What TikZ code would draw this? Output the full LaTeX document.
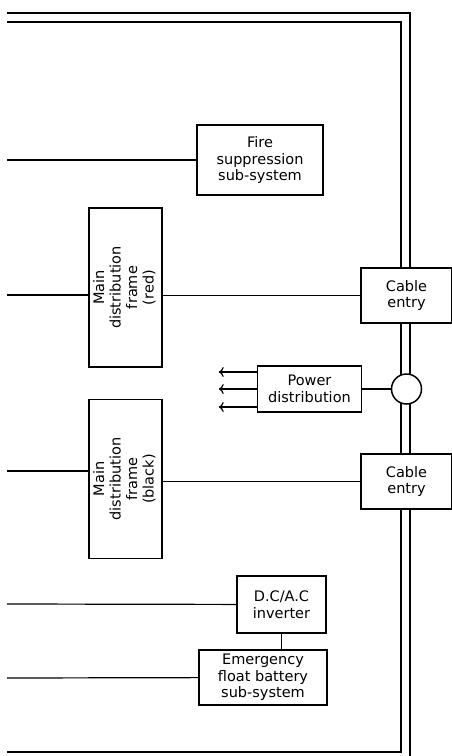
\documentclass[tikz,border=0pt]{standalone}
\usepackage{fontspec}
\usepackage{graphicx}
\usetikzlibrary{arrows.meta}
\newfontfamily\blockfont{DejaVu Sans}

\newcommand{\sideways}[1]{\rotatebox{90}{\begin{tabular}{@{}c@{}}#1\end{tabular}}}

\begin{document}
\begin{tikzpicture}[x=1pt,y=-1pt,>={To[length=5pt,width=10pt]},
        block/.style={draw,line width=1.5pt,fill=white,align=center,inner sep=1pt,
            font=\blockfont\fontsize{14.5}{16.5}\selectfont},
        wall/.style={line width=1.3pt},
        link/.style={line width=1.2pt}]
    \useasboundingbox (0,0) rectangle (452,756);

    % outer and inner wall of the building
    \draw[wall] (7,13) -- (410,13) -- (410,756);
    \draw[wall] (7,22) -- (401,22) -- (401,752) -- (7,752);

    \node[block,minimum width=126pt,minimum height=70pt] (Fire) at (260,160) {Fire\\suppression\\sub-system};
    \node[block,minimum width=73pt,minimum height=159pt] (MDFr) at (125.5,287.5) {\sideways{Main\\distribution\\frame\\(red)}};
    \node[block,minimum width=73pt,minimum height=159pt] (MDFb) [below of=MDFr, node distance=191.5pt] {\sideways{Main\\distribution\\frame\\(black)}};
    \node[block,minimum width=91pt,minimum height=55pt] (CableA) at (406.5,295.5) {Cable\\entry};
    \node[block,minimum width=91pt,minimum height=55pt] (CableB) [below of=CableA, node distance=186pt] {Cable\\entry};
    \node[block,circle,minimum size=30pt,inner sep=0pt] (Duct) [below of=CableA, node distance=93.5pt] {};
    \node[block,minimum width=104pt,minimum height=46pt] (Power) [left of=Duct, node distance=97pt] {Power\\distribution};
    \node[block,minimum width=89pt,minimum height=57pt] (Inverter) at (281.5,604.5) {D.C/A.C\\inverter};
    \node[block,minimum width=128pt,minimum height=55pt] (Battery) at (263,677.5) {Emergency\\float battery\\sub-system};

    % feeds coming in from the left
    \coordinate (fireIn) at (7,160);
    \coordinate (redIn) at (7,295);
    \coordinate (blackIn) at (7,471);
    \coordinate (invIn) at (7,604);
    \coordinate (batIn) at (7,678);

    \path[link] (fireIn) edge (Fire)
        (redIn) edge (redIn -| MDFr.west)
        (CableA) edge (CableA -| MDFr.east)
        (blackIn) edge (blackIn -| MDFb.west)
        (CableB) edge (CableB -| MDFb.east)
        (Power) edge (Duct)
        (invIn) edge (Inverter)
        (batIn) edge (Battery)
        (Inverter.south) edge (Inverter.south |- Battery.north);

    % outgoing power
    \foreach \i/\dy in {1/-17,2/0,3/18} {
        \coordinate (out\i) at ([shift={(-38,\dy)}]Power.west);
        \draw[link,->] (out\i -| Power.west) -- (out\i);
    }
\end{tikzpicture}
\end{document}
